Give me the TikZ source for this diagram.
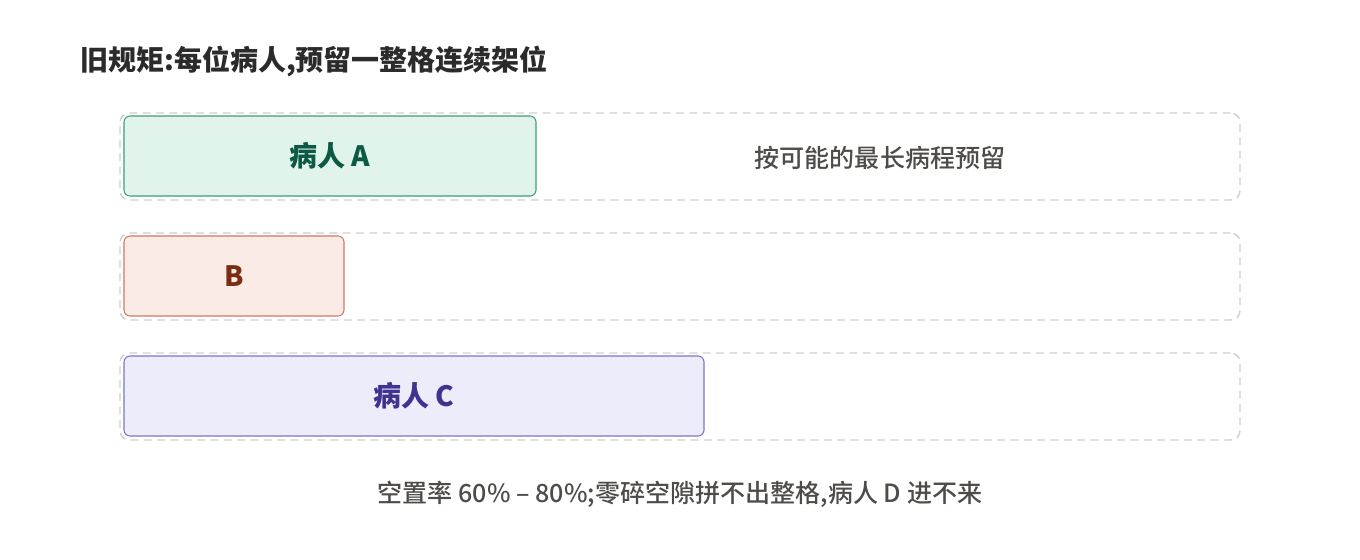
\documentclass[tikz,border=0pt]{standalone}
\usepackage{fontspec}
\setmainfont{Noto Sans CJK SC}
\newfontfamily\medfont{Noto Sans CJK SC Medium}
\definecolor{lanegray}{HTML}{D0CFCB}
\definecolor{titleink}{HTML}{2B2B2B}
\definecolor{noteink}{HTML}{4E4C49}
\definecolor{afill}{HTML}{E1F4EC}
\definecolor{adraw}{HTML}{3F9C7B}
\definecolor{aink}{HTML}{0C5A44}
\definecolor{bfill}{HTML}{FAEBE6}
\definecolor{bdraw}{HTML}{CC7A62}
\definecolor{bink}{HTML}{7A2D12}
\definecolor{cfill}{HTML}{EDECFB}
\definecolor{cdraw}{HTML}{7D73CC}
\definecolor{cink}{HTML}{3E3391}

\begin{document}
\begin{tikzpicture}[x=0.75pt, y=-0.75pt,
    lane/.style={draw=lanegray, line width=1.1pt, dash pattern=on 6pt off 4pt,
      rounded corners=7pt, anchor=north west, inner sep=0pt, outer sep=0pt,
      minimum width=840pt, minimum height=65.25pt},
    slot/.style={line width=0.8pt, rounded corners=4.5pt, anchor=north west,
      inner sep=0pt, outer sep=0pt, minimum height=60pt,
      font=\fontsize{21}{25}\selectfont\bfseries},
    note/.style={text=noteink, font=\medfont\fontsize{18.8}{22}\selectfont}]
        \useasboundingbox (0,0) rectangle (1360,560);
        \node[anchor=base west, inner sep=0pt, text=titleink,
          font=\fontsize{21}{25}\selectfont\bfseries] (title) at (80,71)
          {旧规矩:每位病人,预留一整格连续架位};
        % three shelf lanes
        \node[lane] (laneA) at (120,113) {};
        \node[lane] (laneB) at (120,233) {};
        \node[lane] (laneC) at (120,353) {};
        % reserved slots
        \node[slot, fill=afill, draw=adraw, text=aink, minimum width=309pt] (slotA) at (124,116) {病人 A};
        \node[slot, fill=bfill, draw=bdraw, text=bink, minimum width=165pt] (slotB) at (124,236) {B};
        \node[slot, fill=cfill, draw=cdraw, text=cink, minimum width=435pt] (slotC) at (124,356) {病人 C};
        \node[note] (longest) at (880,158) {按可能的最长病程预留};
        \node[note] (waste) at (680,494) {空置率 60\% – 80\%;零碎空隙拼不出整格,病人 D 进不来};
    \end{tikzpicture}
\end{document}
